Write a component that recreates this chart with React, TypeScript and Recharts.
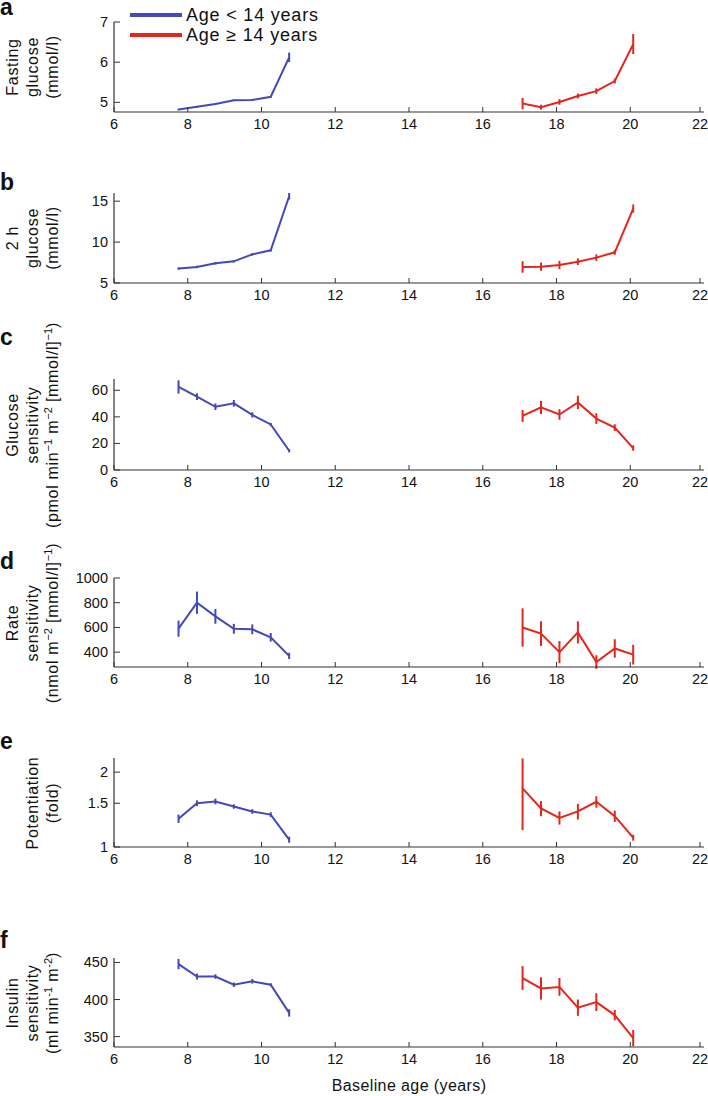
import React from 'react';
import { LineChart, Line, XAxis, YAxis, ErrorBar } from 'recharts';

// baseline age groups (years)
const youngAge = [7.75, 8.25, 8.75, 9.25, 9.75, 10.25, 10.75];
const oldAge = [17.08, 17.58, 18.08, 18.58, 19.08, 19.58, 20.08];
const ageTicks = [6, 8, 10, 12, 14, 16, 18, 20, 22];

// a: fasting glucose (mmol/l)
const fastingYoung = [4.82, 4.89, 4.96, 5.05, 5.06, 5.14, 6.12];
const fastingYoungErr = [0.02, 0.02, 0.02, 0.02, 0.02, 0.02, 0.12];
const fastingOld = [4.97, 4.88, 5.01, 5.16, 5.28, 5.53, 6.45];
const fastingOldErr = [0.14, 0.06, 0.07, 0.06, 0.07, 0.06, 0.25];

// b: 2 h glucose (mmol/l)
const twoHourYoung = [6.76, 6.96, 7.4, 7.65, 8.5, 9.0, 15.6];
const twoHourYoungErr = [0.15, 0.15, 0.15, 0.15, 0.15, 0.15, 0.4];
const twoHourOld = [6.96, 7.0, 7.2, 7.6, 8.1, 8.75, 14.1];
const twoHourOldErr = [0.7, 0.5, 0.5, 0.4, 0.4, 0.3, 0.5];

// c: glucose sensitivity
const glucSensYoung = [62.5, 55.2, 47.6, 50.2, 41.5, 34.3, 14.5];
const glucSensYoungErr = [5, 2.5, 2.5, 2.5, 2, 1.2, 1.2];
const glucSensOld = [40.7, 47.1, 41.8, 50.9, 38.7, 31.9, 16.5];
const glucSensOldErr = [4.5, 5, 4, 5, 4, 2.5, 2];

// d: rate sensitivity
const rateSensYoung = [590, 800, 690, 589, 585, 520, 370];
const rateSensYoungErr = [65, 90, 60, 40, 40, 35, 25];
const rateSensOld = [600, 550, 400, 560, 320, 430, 380];
const rateSensOldErr = [155, 100, 90, 90, 55, 75, 80];

// e: potentiation (fold)
const potYoung = [1.3, 1.5, 1.525, 1.455, 1.39, 1.35, 1.07];
const potYoungErr = [0.05, 0.04, 0.04, 0.03, 0.03, 0.03, 0.03];
const potOld = [1.72, 1.43, 1.31, 1.39, 1.52, 1.33, 1.09];
const potOldErr = [0.55, 0.1, 0.08, 0.1, 0.08, 0.07, 0.03];

// f: insulin sensitivity
const insSensYoung = [447.8, 431, 431, 420, 424.5, 420, 382];
const insSensYoungErr = [7, 4, 3, 3, 3, 2, 5];
const insSensOld = [429, 415, 417, 389, 396.5, 379, 348];
const insSensOldErr = [16, 15, 12, 11, 12, 7, 11];

const BLUE = '#4349b7';
const RED = '#e3261c';
const AXIS = '#333';
const FONT = '"Liberation Sans", Arial, Helvetica, sans-serif';

const rows = (ages: number[], values: number[], errors: number[]) =>
  ages.map((x, i) => ({ x, y: values[i], err: errors[i] }));

const sup = (s: string) => (
  <sup style={{ fontSize: 11, lineHeight: 0, letterSpacing: 0 }}>{s}</sup>
);

const panels = [
  {
    letter: 'a', top: 22, plotH: 90, domain: [4.76, 7], ticks: [5, 6, 7], log: false,
    young: rows(youngAge, fastingYoung, fastingYoungErr),
    old: rows(oldAge, fastingOld, fastingOldErr),
    label: [<>Fasting</>, <>glucose</>, <>(mmol/l)</>],
  },
  {
    letter: 'b', top: 193, plotH: 90, domain: [5, 16], ticks: [5, 10, 15], log: false,
    young: rows(youngAge, twoHourYoung, twoHourYoungErr),
    old: rows(oldAge, twoHourOld, twoHourOldErr),
    label: [<>2 h</>, <>glucose</>, <>(mmol/l)</>],
  },
  {
    letter: 'c', top: 379, plotH: 91, domain: [0, 68.5], ticks: [0, 20, 40, 60], log: false,
    young: rows(youngAge, glucSensYoung, glucSensYoungErr),
    old: rows(oldAge, glucSensOld, glucSensOldErr),
    label: [<>Glucose</>, <>sensitivity</>, <>(pmol min{sup('−1')} m{sup('−2')} [mmol/l]{sup('−1')})</>],
  },
  {
    letter: 'd', top: 578, plotH: 89, domain: [280, 1000], ticks: [400, 600, 800, 1000], log: false,
    young: rows(youngAge, rateSensYoung, rateSensYoungErr),
    old: rows(oldAge, rateSensOld, rateSensOldErr),
    label: [<>Rate</>, <>sensitivity</>, <>(nmol m{sup('−2')} [mmol/l]{sup('−1')})</>],
  },
  {
    letter: 'e', top: 758, plotH: 89, domain: [1, 2.28], ticks: [1, 1.5, 2], log: true,
    young: rows(youngAge, potYoung, potYoungErr),
    old: rows(oldAge, potOld, potOldErr),
    label: [null, <>Potentiation</>, <>(fold)</>],
  },
  {
    letter: 'f', top: 958, plotH: 89, domain: [336, 456], ticks: [350, 400, 450], log: false,
    young: rows(youngAge, insSensYoung, insSensYoungErr),
    old: rows(oldAge, insSensOld, insSensOldErr),
    label: [<>Insulin</>, <>sensitivity</>, <>(ml min{sup('-1')} m{sup('-2')})</>],
  },
];

const letterBaselines = [15, 190, 345, 569, 749, 948];
const labelColumns = [13, 33, 53];

const XTick = (props: any) => {
  const { x, y, payload } = props;
  return (
    <g>
      <line x1={x} x2={x} y1={y} y2={y - 5} stroke={AXIS} strokeWidth={1} />
      <text x={x} y={y + 16.5} textAnchor="middle" fontSize={14.5} fontFamily={FONT} fill="#111">
        {payload.value}
      </text>
    </g>
  );
};

const YTick = (props: any) => {
  const { x, y, payload } = props;
  return (
    <g>
      <line x1={x} x2={x + 6} y1={y} y2={y} stroke={AXIS} strokeWidth={1} />
      <text x={x - 6} y={y + 5} textAnchor="end" fontSize={14.5} fontFamily={FONT} fill="#111">
        {payload.value}
      </text>
    </g>
  );
};

function Panel({ p }: { p: (typeof panels)[number] }) {
  return (
    <div style={{ position: 'absolute', left: 0, top: p.top - 10 }}>
      <LineChart width={708} height={p.plotH + 40} margin={{ top: 10, right: 4, bottom: 0, left: 0 }}>
        <XAxis
          type="number"
          dataKey="x"
          domain={[6, 22]}
          ticks={ageTicks}
          allowDataOverflow
          height={30}
          tickSize={0}
          tickMargin={0}
          tickLine={false}
          axisLine={{ stroke: AXIS, strokeWidth: 1.2 }}
          tick={<XTick />}
        />
        <YAxis
          type="number"
          scale={p.log ? 'log' : 'linear'}
          domain={p.domain}
          ticks={p.ticks}
          allowDataOverflow
          width={114}
          tickSize={0}
          tickMargin={0}
          tickLine={false}
          axisLine={{ stroke: AXIS, strokeWidth: 1.2 }}
          tick={<YTick />}
        />
        <Line data={p.young} dataKey="y" stroke={BLUE} strokeWidth={2} dot={false} isAnimationActive={false}>
          <ErrorBar dataKey="err" direction="y" width={0} stroke={BLUE} strokeWidth={2} isAnimationActive={false} />
        </Line>
        <Line data={p.old} dataKey="y" stroke={RED} strokeWidth={2} dot={false} isAnimationActive={false}>
          <ErrorBar dataKey="err" direction="y" width={0} stroke={RED} strokeWidth={2} isAnimationActive={false} />
        </Line>
      </LineChart>
    </div>
  );
}

export default function App() {
  const centerOf = (p: (typeof panels)[number]) => p.top + p.plotH / 2;
  return (
    <div
      style={{
        position: 'absolute', left: 0, top: 0, width: 708, height: 1096,
        background: '#fff', fontFamily: FONT, color: '#111', overflow: 'hidden',
      }}
    >
      {panels.map((p) => (
        <Panel key={p.letter} p={p} />
      ))}

      {/* panel letters */}
      <svg width={708} height={1096} style={{ position: 'absolute', left: 0, top: 0, pointerEvents: 'none' }}>
        {panels.map((p, i) => (
          <text key={p.letter} x={0} y={letterBaselines[i]} fontSize={23} fontWeight="bold" fontFamily={FONT} fill="#111">
            {p.letter}
          </text>
        ))}
      </svg>

      {panels.map((p) =>
        p.label.map((line, j) =>
          line ? (
            <div
              key={p.letter + j}
              style={{
                position: 'absolute', left: labelColumns[j], top: centerOf(p),
                transform: 'translate(-50%, -50%) rotate(-90deg)',
                whiteSpace: 'nowrap', fontSize: 16, letterSpacing: 0.7, lineHeight: '18px',
              }}
            >
              {line}
            </div>
          ) : null
        )
      )}

      {/* legend */}
      <div style={{ position: 'absolute', left: 130, top: 13, width: 52, height: 4, background: BLUE }} />
      <div style={{ position: 'absolute', left: 186, top: 4, fontSize: 18, letterSpacing: 0.8, lineHeight: '22px', whiteSpace: 'nowrap' }}>
        Age &lt; 14 years
      </div>
      <div style={{ position: 'absolute', left: 130, top: 33, width: 52, height: 4, background: RED }} />
      <div style={{ position: 'absolute', left: 186, top: 24, fontSize: 18, letterSpacing: 0.8, lineHeight: '22px', whiteSpace: 'nowrap' }}>
        Age ≥ 14 years
      </div>

      <div
        style={{
          position: 'absolute', left: 409, top: 1086, transform: 'translate(-50%, -50%)',
          fontSize: 16, letterSpacing: 0.4, whiteSpace: 'nowrap',
        }}
      >
        Baseline age (years)
      </div>
    </div>
  );
}
